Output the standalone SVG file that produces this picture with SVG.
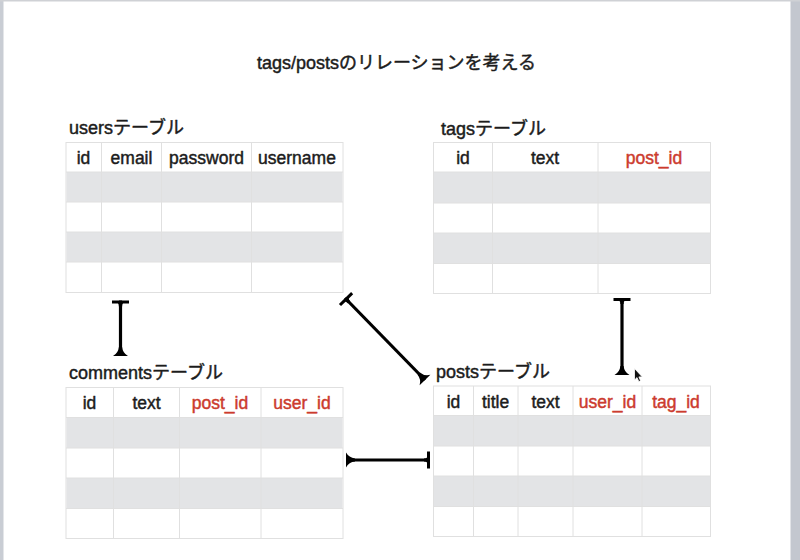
<svg xmlns="http://www.w3.org/2000/svg" width="800" height="560" viewBox="0 0 800 560">
<style>
.t{font-family:"Liberation Sans","Noto Sans CJK JP",sans-serif;fill:#1c1c1c;stroke:#1c1c1c;stroke-width:0.45px;stroke-linejoin:round}
.title{font-size:18px}
.lbl{font-size:18px}
.h{font-size:17.5px;text-anchor:middle}
.fk{fill:#cc3b2e;stroke:#cc3b2e}
.tb{fill:#ffffff;stroke:#e0e0e0;stroke-width:1}
.g{fill:#e3e4e6}
.gl{stroke:#e0e0e0;stroke-width:1;fill:none}
.c{stroke:#000;stroke-width:3.2;fill:none;marker-start:url(#bar);marker-end:url(#foot)}
</style>
<defs>
<marker id="bar" viewBox="-12 -12 24 24" markerWidth="24" markerHeight="24" refX="0" refY="0" orient="auto" markerUnits="userSpaceOnUse">
<path d="M0,-8.5 L3,-8.5 L3,-2.5 Q3.5,-1.6 6,-1.6 L6,1.6 Q3.5,1.6 3,2.5 L3,8.5 L0,8.5 Z" fill="#000"/>
</marker>
<marker id="foot" viewBox="-12 -12 24 24" markerWidth="24" markerHeight="24" refX="0" refY="0" orient="auto" markerUnits="userSpaceOnUse">
<path d="M0,-7.5 L0,7.5 Q-3,2.2 -9,1.6 L-9,-1.6 Q-3,-2.2 0,-7.5 Z" fill="#000"/>
</marker>
</defs>
<rect x="0" y="0" width="800" height="560" fill="#ffffff"/>
<rect x="0" y="0" width="3.5" height="560" fill="#c9cdd4"/>
<rect x="790.5" y="0" width="9.5" height="560" fill="#c3c7cf"/>
<rect x="0" y="0" width="800" height="1.5" fill="#cfd1d5"/>

<text class="t title" x="396.5" y="69" text-anchor="middle">tags/postsのリレーションを考える</text>

<g id="users">
<text class="t lbl" x="69" y="134">usersテーブル</text>
<rect class="tb" x="66" y="142.5" width="277" height="150"/>
<rect class="g" x="66.5" y="172" width="276" height="30"/>
<rect class="g" x="66.5" y="232" width="276" height="30"/>
<path class="gl" d="M66,172H343M66,202H343M66,232H343M66,262H343M101.5,142.5V292.5M161.5,142.5V292.5M251.5,142.5V292.5"/>
<text class="t h" x="83.5" y="164">id</text>
<text class="t h" x="131.5" y="164">email</text>
<text class="t h" x="206.5" y="164">password</text>
<text class="t h" x="297" y="164">username</text>
</g>

<g id="tags">
<text class="t lbl" x="441" y="135">tagsテーブル</text>
<rect class="tb" x="433.5" y="142.5" width="277" height="151"/>
<rect class="g" x="434" y="172" width="276" height="31"/>
<rect class="g" x="434" y="233" width="276" height="30.5"/>
<path class="gl" d="M433.5,172H710.5M433.5,203H710.5M433.5,233H710.5M433.5,263.5H710.5M492.5,142.5V293.5M598,142.5V293.5"/>
<text class="t h" x="463" y="164">id</text>
<text class="t h" x="545" y="164">text</text>
<text class="t h fk" x="654" y="164">post_id</text>
</g>

<g id="comments">
<text class="t lbl" x="69" y="378.5">commentsテーブル</text>
<rect class="tb" x="66" y="387.5" width="277" height="151"/>
<rect class="g" x="66.5" y="417.5" width="276" height="30.5"/>
<rect class="g" x="66.5" y="478" width="276" height="30.5"/>
<path class="gl" d="M66,417.5H343M66,448H343M66,478H343M66,508.5H343M113.5,387.5V538.5M179.5,387.5V538.5M261,387.5V538.5"/>
<text class="t h" x="89.5" y="409">id</text>
<text class="t h" x="146.5" y="409">text</text>
<text class="t h fk" x="220" y="409">post_id</text>
<text class="t h fk" x="302" y="409">user_id</text>
</g>

<g id="posts">
<text class="t lbl" x="436" y="377.5">postsテーブル</text>
<rect class="tb" x="433.5" y="386" width="277" height="150.5"/>
<rect class="g" x="434" y="415.5" width="276" height="30.5"/>
<rect class="g" x="434" y="476" width="276" height="30.5"/>
<path class="gl" d="M433.5,415.5H710.5M433.5,446H710.5M433.5,476H710.5M433.5,506.5H710.5M473.5,386V536.5M518,386V536.5M573,386V536.5M642,386V536.5"/>
<text class="t h" x="453.5" y="407.5">id</text>
<text class="t h" x="495.5" y="407.5">title</text>
<text class="t h" x="545.5" y="407.5">text</text>
<text class="t h fk" x="607.5" y="407.5">user_id</text>
<text class="t h fk" x="676" y="407.5">tag_id</text>
</g>

<g id="connectors">
<line class="c" x1="120.5" y1="300.5" x2="120.5" y2="356"/>
<line class="c" x1="345" y1="298" x2="425" y2="380"/>
<line class="c" x1="622" y1="298" x2="622" y2="375"/>
<line class="c" x1="430" y1="460" x2="346" y2="460"/>
</g>

<path d="M634.5,368.5 L634.5,380 L637,377.6 L638.8,381.6 L640.6,380.8 L638.9,376.9 L642.3,376.9 Z" fill="#111" stroke="#fff" stroke-width="0.8"/>
</svg>
